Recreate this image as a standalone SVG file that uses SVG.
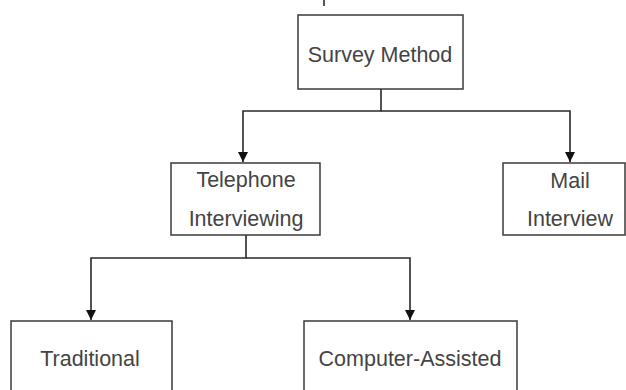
<svg xmlns="http://www.w3.org/2000/svg" width="626" height="390" viewBox="0 0 626 390">
<style>
.box{fill:#fff;stroke:#3a3a3a;stroke-width:1.5}
.lbl{font-family:"Liberation Sans",Arial,sans-serif;font-size:21.5px;fill:#444;text-anchor:middle}
.ln{fill:none;stroke:#2a2a2a;stroke-width:1.6}
</style>
<defs>
<marker id="ah" viewBox="0 0 10 10" refX="10" refY="5" markerWidth="10" markerHeight="10" markerUnits="userSpaceOnUse" orient="auto">
<path d="M0,0 L10,5 L0,10 Z" fill="#111"/>
</marker>
</defs>
<rect width="626" height="390" fill="#fff"/>
<g id="connectors">
<line class="ln" x1="324" y1="0" x2="324" y2="6"/>
<path class="ln" d="M381,89 V111 H243 V162" marker-end="url(#ah)"/>
<path class="ln" d="M381,111 H570 V162" marker-end="url(#ah)"/>
<path class="ln" d="M246,235 V258 H91 V320" marker-end="url(#ah)"/>
<path class="ln" d="M246,258 H410 V320" marker-end="url(#ah)"/>
</g>
<g id="survey">
<rect class="box" x="298" y="15" width="165" height="74"/>
<text class="lbl" x="380" y="62">Survey Method</text>
</g>
<g id="telephone">
<rect class="box" x="171" y="163" width="149" height="72"/>
<text class="lbl" x="246" y="187">Telephone</text>
<text class="lbl" x="246" y="226">Interviewing</text>
</g>
<g id="mail">
<rect class="box" x="503" y="163" width="122" height="72"/>
<text class="lbl" x="570" y="188">Mail</text>
<text class="lbl" x="570" y="226">Interview</text>
</g>
<g id="traditional">
<rect class="box" x="11" y="321" width="161" height="80"/>
<text class="lbl" x="90" y="366">Traditional</text>
</g>
<g id="computer">
<rect class="box" x="304" y="321" width="213" height="80"/>
<text class="lbl" x="410" y="366">Computer-Assisted</text>
</g>
</svg>
